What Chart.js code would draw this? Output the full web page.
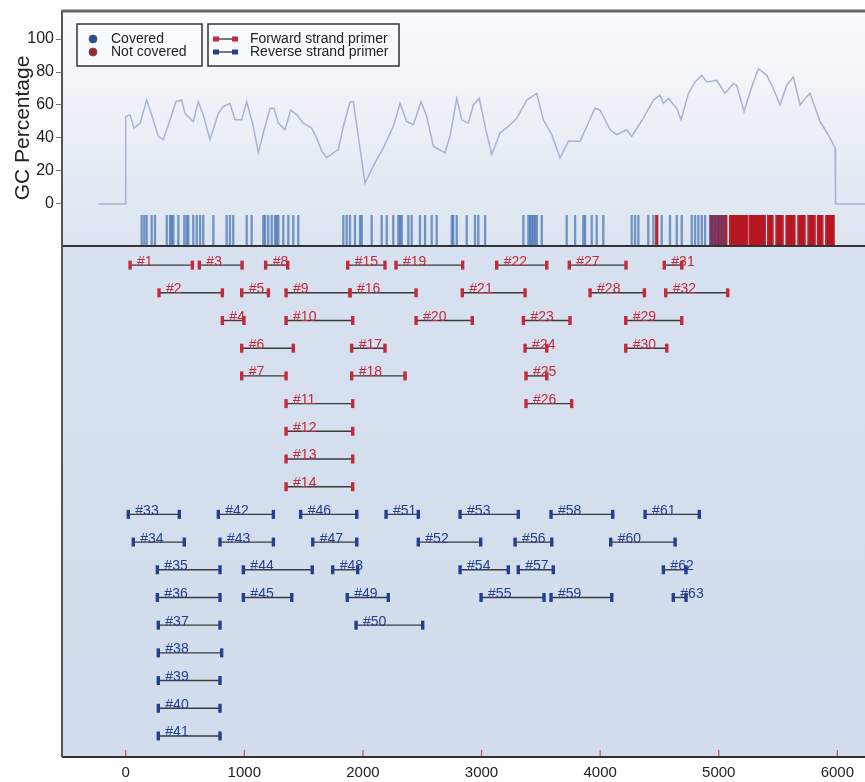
<!DOCTYPE html>
<html><head><meta charset="utf-8">
<script src="https://cdn.jsdelivr.net/npm/chart.js@4.4.1/dist/chart.umd.min.js"></script>
<style>html,body{margin:0;padding:0;background:#fff;overflow:hidden;}canvas{display:block;}</style>
</head><body><canvas id="c" width="865" height="782"></canvas>
<script>
// ---- data ----
const gcPos = [-230,0,0,36,70,121,177,219,275,317,374,424,472,500,570,612,654,711,781,823,879,922,978,1020,1076,1118,1160,1217,1250,1287,1343,1391,1442,1497,1568,1610,1653,1695,1750,1793,1835,1891,1919,2018,2102,2172,2256,2313,2369,2425,2490,2538,2594,2692,2734,2791,2833,2889,2931,2981,3030,3086,3156,3226,3297,3381,3466,3521,3592,3662,3732,3831,3887,3957,3999,4084,4140,4224,4266,4364,4449,4505,4533,4575,4646,4682,4744,4800,4857,4899,4983,5053,5123,5152,5213,5278,5334,5405,5460,5517,5573,5629,5686,5728,5770,5854,5938,5981,5985,6240];
const gcVal = [0,0,53,54,46,49,63,54,41,39,51,62,63,55,50,62,54,39,55,59,61,51,51,62,47,31,43,58,58,49,45,57,54,49,46,40,32,28,31,33,47,62,62,12.5,25,34,47,61,50,48,62,53,35,31,41,64,51,49,60,64,47,30,43,47,52,63,67,51,42,28,38,38,47,58,57,45,42,45,41,52,63,66,61,64,58,51,67,74,78,74,75,67,73,72,56,71,82,78,70,60,72,77,60,64,67,50,40,34,0,0];

const coveredPos = [135,157,177,219,247,346,374,388,402,444,494,514,528,570,599,627,654,739,851,879,907,1020,1062,1160,1175,1202,1231,1259,1273,1287,1329,1371,1413,1455,1835,1863,1891,1933,1976,1990,2074,2158,2201,2256,2299,2313,2327,2383,2411,2481,2524,2580,2622,2749,2762,2791,2875,2945,2973,3030,3353,3395,3409,3423,3437,3451,3466,3508,3718,3789,3858,3873,3929,3971,4027,4266,4294,4322,4406,4449,4519,4589,4646,4688,4772,4800,4828,4857,4885,4927,4955,4983,5011,5039];
const notCoveredPos = [4477,4935,4950,4965,4985,5000,5015,5030,5045,5060,5100,5115,5130,5145,5160,5175,5190,5205,5220,5235,5265,5280,5295,5310,5325,5340,5355,5370,5385,5420,5435,5450,5490,5505,5520,5535,5575,5590,5605,5620,5635,5675,5690,5705,5720,5760,5775,5790,5805,5840,5855,5870,5910,5925,5940,5955,5965];

// forward strand amplicons #1..#32
const fwdStart = [37,281,621,815,978,978,978,1180,1352,1352,1352,1352,1352,1352,1872,1891,1905,1905,2279,2448,2838,3128,3353,3367,3375,3375,3740,3915,4216,4216,4541,4553];
const fwdEnd   = [562,815,981,997,1203,1413,1352,1366,1891,1914,1914,1914,1914,1914,2186,2448,2186,2355,2841,2922,3367,3550,3746,3550,3550,3760,4218,4373,4688,4562,4688,5076];
const fwdRow   = [1,2,1,3,2,4,5,1,2,3,6,7,8,9,1,2,4,5,1,3,2,1,3,4,5,6,1,2,3,4,1,2];
// reverse strand amplicons #33..#63
const revStart = [22,64,267,267,275,275,275,275,275,781,795,992,992,1475,1577,1745,1868,1942,2195,2467,2819,2819,2996,3283,3310,3586,3586,4089,4379,4533,4617];
const revEnd   = [452,494,795,795,795,809,795,795,795,1245,1245,1573,1400,1948,1948,1956,2214,2504,2467,2993,3310,3226,3527,3592,3605,4106,4098,4632,4836,4724,4724];
const revRow   = [10,11,12,13,14,15,16,17,18,10,11,12,13,10,11,12,13,14,10,11,10,12,13,11,12,10,13,11,10,12,13];

const xTickValues = [0,1000,2000,3000,4000,5000,6000];
const yTickValues = [0,20,40,60,80,100];
const coverageLegend = ['Covered','Not covered'];
const primerLegend = ['Forward strand primer','Reverse strand primer'];

// ---- styles ----
const FWD = '#c42a3a', REV = '#233f92';
const TICK_CENTER = -15.8;
const FONT = '"Liberation Sans", Arial, sans-serif';

const datasets = [];
datasets.push({type:'line', label:'GC', yAxisID:'y', data: gcPos.map((x,i)=>({x, y:gcVal[i]})),
  borderColor:'#a6b4d1', borderWidth:1.5, pointRadius:0, tension:0});
datasets.push({type:'scatter', label:'Covered', yAxisID:'y', data: coveredPos.map(x=>({x, y:TICK_CENTER})),
  pointStyle:'line', pointRotation:90, pointRadius:15, pointBorderWidth:2.3, pointBorderColor:'rgba(45,95,170,0.62)', pointBackgroundColor:'rgba(0,0,0,0)'});
datasets.push({type:'scatter', label:'Not covered', yAxisID:'y', data: notCoveredPos.map(x=>({x, y:TICK_CENTER})),
  pointStyle:'line', pointRotation:90, pointRadius:15, pointBorderWidth:3.2, pointBorderColor:'rgba(183,16,28,0.9)', pointBackgroundColor:'rgba(0,0,0,0)'});

function addPrimers(starts, ends, rows, firstNum, col){
  starts.forEach((s,i)=>{
    datasets.push({type:'line', label:'#'+(firstNum+i), primer:true, labelColor:col, yAxisID:'yRow',
      data:[{x:s, y:rows[i]},{x:ends[i], y:rows[i]}],
      borderColor:'#3a3a3a', borderWidth:1.4, tension:0,
      pointStyle:'line', pointRotation:90, pointRadius:4.5, pointBorderWidth:3.4,
      pointBorderColor:col, pointBackgroundColor:col});
  });
}
addPrimers(fwdStart, fwdEnd, fwdRow, 1, FWD);
addPrimers(revStart, revEnd, revRow, 33, REV);

const panelPlugin = {
  id:'panels',
  beforeDraw(chart){
    const {ctx, chartArea} = chart;
    const yT = chart.scales.y, yB = chart.scales.yRow;
    const w = chartArea.right - chartArea.left;
    ctx.save();
    let g = ctx.createLinearGradient(0, yT.top, 0, yT.bottom);
    g.addColorStop(0,'#fafbfd'); g.addColorStop(1,'#dbe4ef');
    ctx.fillStyle = g; ctx.fillRect(chartArea.left, yT.top, w, yT.bottom - yT.top);
    g = ctx.createLinearGradient(0, yB.top, 0, yB.bottom);
    g.addColorStop(0,'#d7e1ef'); g.addColorStop(1,'#d1dcec');
    ctx.fillStyle = g; ctx.fillRect(chartArea.left, yB.top, w, yB.bottom - yB.top);
    ctx.restore();
  },
  afterDatasetsDraw(chart){
    const ctx = chart.ctx;
    ctx.save();
    ctx.font = '14px ' + FONT;
    ctx.textBaseline = 'alphabetic';
    ctx.textAlign = 'left';
    chart.data.datasets.forEach((ds, i)=>{
      if(!ds.primer) return;
      const p = chart.getDatasetMeta(i).data[0];
      ctx.fillStyle = ds.labelColor;
      ctx.fillText(ds.label, p.x + 7, p.y + 0.5);
    });
    ctx.restore();
  },
  afterDraw(chart){
    const {ctx, chartArea} = chart;
    const yT = chart.scales.y, x = chart.scales.x;
    ctx.save();
    ctx.strokeStyle = '#d9534f'; ctx.lineWidth = 1.3;
    xTickValues.forEach(v=>{
      const px = x.getPixelForValue(v);
      ctx.beginPath(); ctx.moveTo(px, chartArea.bottom - 7); ctx.lineTo(px, chartArea.bottom); ctx.stroke();
    });
    ctx.strokeStyle = '#333'; ctx.lineWidth = 2;
    ctx.beginPath(); ctx.moveTo(chartArea.left, yT.bottom); ctx.lineTo(chartArea.right, yT.bottom); ctx.stroke();
    ctx.beginPath(); ctx.moveTo(chartArea.left, chartArea.bottom); ctx.lineTo(chartArea.right, chartArea.bottom); ctx.stroke();
    ctx.strokeStyle = '#555'; ctx.lineWidth = 2;
    ctx.beginPath(); ctx.moveTo(chartArea.left, chartArea.top); ctx.lineTo(chartArea.left, chartArea.bottom); ctx.stroke();
    ctx.strokeStyle = '#666'; ctx.lineWidth = 3;
    ctx.beginPath(); ctx.moveTo(chartArea.left, chartArea.top + 1); ctx.lineTo(chartArea.right, chartArea.top + 1); ctx.stroke();
    const L = chartArea.left, T = chartArea.top;
    ctx.lineWidth = 1.5; ctx.strokeStyle = '#333';
    ctx.fillStyle = 'rgba(250,251,253,0.6)';
    ctx.fillRect(L+15, T+14, 125, 42); ctx.strokeRect(L+15, T+14, 125, 42);
    ctx.fillRect(L+146, T+14, 191, 42); ctx.strokeRect(L+146, T+14, 191, 42);
    ctx.font = '14px ' + FONT;
    ctx.textBaseline = 'middle'; ctx.textAlign = 'left';
    const rowsY = [T+29, T+42];
    const covCols = ['#2a4f96','#a3282c'];
    coverageLegend.forEach((t,i)=>{
      ctx.fillStyle = covCols[i];
      ctx.beginPath(); ctx.arc(L+31, rowsY[i], 4, 0, Math.PI*2); ctx.fill();
      ctx.strokeStyle = '#555'; ctx.lineWidth = 0.8; ctx.stroke();
      ctx.fillStyle = '#222'; ctx.fillText(t, L+49, rowsY[i]);
    });
    const primCols = [FWD, REV];
    primerLegend.forEach((t,i)=>{
      ctx.strokeStyle = '#333'; ctx.lineWidth = 1.3;
      ctx.beginPath(); ctx.moveTo(L+153, rowsY[i]); ctx.lineTo(L+173, rowsY[i]); ctx.stroke();
      ctx.fillStyle = primCols[i];
      ctx.fillRect(L+151, rowsY[i]-2.5, 6, 5); ctx.fillRect(L+170, rowsY[i]-2.5, 6, 5);
      ctx.fillStyle = '#222'; ctx.fillText(t, L+188, rowsY[i]);
    });
    ctx.restore();
  }
};

new Chart(document.getElementById('c'), {
  data:{datasets},
  options:{
    responsive:false, animation:false, events:[],
    layout:{autoPadding:false, padding:{top:10, right:0, left:0, bottom:0}},
    plugins:{legend:{display:false}, tooltip:{enabled:false}},
    scales:{
      x:{type:'linear', min:-537, max:6233,
        afterBuildTicks:s=>{ s.ticks = xTickValues.map(v=>({value:v})); },
        grid:{display:false, drawTicks:false}, border:{display:false},
        ticks:{padding:7, color:'#222', font:{family:FONT, size:15}, maxRotation:0, autoSkip:false,
          callback:v=>String(v)},
        afterFit:s=>{ s.height = 25; s.paddingLeft = 0; s.paddingRight = 0; }},
      yRow:{type:'linear', position:'left', stack:'main', stackWeight:511, weight:1,
        min:0.31, max:18.76, reverse:true,
        ticks:{display:false}, grid:{display:false}, border:{display:false},
        afterFit:s=>{ s.width = 62; s.paddingTop = 0; s.paddingBottom = 0; }},
      y:{type:'linear', position:'left', stack:'main', stackWeight:236, weight:2,
        min:-25.5, max:117.6,
        afterBuildTicks:s=>{ s.ticks = yTickValues.map(v=>({value:v})); },
        ticks:{padding:2, color:'#222', font:{family:FONT, size:16}},
        grid:{drawOnChartArea:false, drawTicks:true, tickLength:6, color:'#777'},
        border:{display:false},
        title:{display:true, text:'GC Percentage', color:'#222', padding:{top:11,bottom:0},
          font:{family:FONT, size:21}},
        afterFit:s=>{ s.width = 62; s.paddingTop = 0; s.paddingBottom = 0; }}
    }
  },
  plugins:[panelPlugin]
});
</script></body></html>
